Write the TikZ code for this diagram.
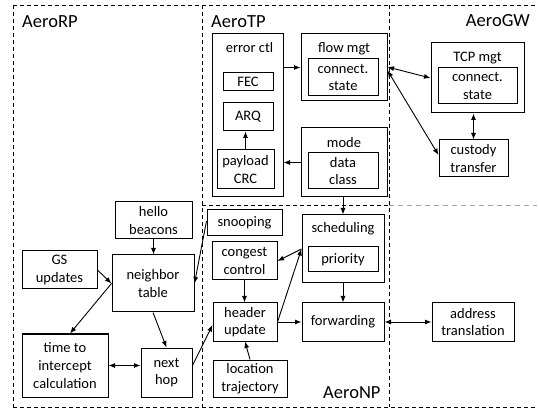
\documentclass[tikz,border=0pt]{standalone}
\usepackage{fontspec}
\setmainfont{Carlito}
\usetikzlibrary{arrows.meta}
\tikzset{
  box/.style={draw, line width=1pt, inner sep=0pt, align=center,
    font=\fontsize{14.5}{17.7}\selectfont},
  txt/.style={inner sep=0pt, font=\fontsize{14.5}{17.7}\selectfont},
  layer/.style={inner sep=0pt, font=\fontsize{18.5}{22}\selectfont},
  arr/.style={line width=0.9pt, -{Latex[length=6.5pt,width=5pt]}},
  darr/.style={line width=0.9pt, {Latex[length=6.5pt,width=5pt]}-{Latex[length=6.5pt,width=5pt]}},
  divider/.style={line width=0.9pt, dash pattern=on 4pt off 3pt},
  faint/.style={line width=0.9pt, draw=black!35, dash pattern=on 5pt off 4pt},
}
\newcommand{\bx}[6]{\node[box, minimum width=#4pt, minimum height=#5pt] (#1) at (#2,#3) {#6};}
\begin{document}
\begin{tikzpicture}[x=1pt,y=-1pt]
\useasboundingbox (0,0) rectangle (539,409);

% layer frame
\draw[divider] (13,5) -- (537,5);
\draw[divider] (13,407) -- (537,407);
\draw[divider] (13,5) -- (13,407);
\draw[divider] (202,5) -- (202,407);
\draw[divider] (389,5) -- (389,407);
\draw[divider] (202,205) -- (389,205);
\draw[faint] (389,205) -- (537,205);

% layer names
\node[layer, anchor=base west] (rp) at (22,28) {AeroRP};
\node[layer, anchor=base west] (tp) at (211,28) {AeroTP};
\node[layer, anchor=base east] (gw) at (530,27) {AeroGW};
\node[layer, anchor=base west] (np) at (323,399) {AeroNP};

% AeroTP
\bx{errctl}{247.5}{115.5}{71}{163}{}
\node[txt, anchor=base] (errlbl) at (249.5,53) {error ctl};
\bx{fec}{248}{82}{50}{18}{FEC}
\bx{arq}{248}{117}{50}{28}{ARQ}
\bx{crc}{245.5}{169.5}{57}{39}{payload\\CRC}
\bx{flow}{344}{67.5}{86}{67}{}
\node[txt, anchor=base] (flowlbl) at (344,53) {flow mgt};
\bx{conn}{343}{77.5}{70}{37}{connect.\\state}
\bx{mode}{344}{162.5}{86}{69}{}
\node[txt, anchor=base] (modelbl) at (344,148) {mode};
\bx{dclass}{343}{171}{70}{36}{data\\class}

% AeroGW
\bx{tcp}{477.5}{78}{93}{70}{}
\node[txt, anchor=base] (tcplbl) at (477.5,62) {TCP mgt};
\bx{conngw}{477.5}{86}{79}{36}{connect.\\state}
\bx{custody}{473.5}{158.5}{69}{37}{custody\\transfer}
\bx{addr}{473}{322}{82}{38}{address\\translation}

% AeroRP
\bx{hello}{153.5}{220.5}{77}{37}{hello\\beacons}
\bx{neigh}{153}{283.5}{82}{57}{neighbor\\table}
\bx{gs}{59.5}{270}{75}{38}{GS\\updates}
\bx{tti}{65}{365.5}{86}{63}{time to\\intercept\\calculation}
\bx{hop}{166.5}{372.5}{51}{49}{next\\hop}

% AeroNP
\bx{snoop}{244.5}{223}{75}{26}{snooping}
\bx{cong}{244.5}{261}{65}{38}{congest\\control}
\bx{hdr}{245}{322}{64}{38}{header\\update}
\bx{loc}{250}{378.5}{74}{37}{location\\trajectory}
\bx{sched}{343}{249}{82}{68}{}
\node[txt, anchor=base] (schedlbl) at (343,233) {scheduling};
\bx{prio}{343}{259.5}{70}{25}{priority}
\bx{fwd}{343}{322}{82}{38}{forwarding}

% connectors
\draw[arr] (errctl.east |- flow.west) -- (flow.west);
\draw[arr] (mode.west) -- (errctl.east |- mode.west);
\draw[arr] (crc.north) -- (crc.north |- arq.south);
\draw[darr] ([yshift=0.5pt]flow.east) -- (tcp.west);
\draw[darr] ([yshift=-3pt]flow.east) -- ([yshift=3.5pt]custody.west);
\draw[darr] (custody.north) -- (custody.north |- tcp.south);
\draw[arr] (sched.north |- mode.south) -- (sched.north);

\draw[arr] ([yshift=2pt]snoop.west) -- (neigh.east);
\draw[arr] (hello.south) -- (hello.south |- neigh.north);
\draw[arr] (gs.east) -- (neigh.west);
\draw[arr] (neigh.west) -- ([xshift=5pt]tti.north);
\draw[arr] (neigh.south) -- (hop.north);
\draw[darr] (tti.east) -- (tti.east -| hop.west);
\draw[arr] ([yshift=7pt]hop.east) -- ([yshift=-3pt]hdr.west);
\draw[arr] (cong.south) -- (cong.south |- hdr.north);
\draw[arr] (loc.north) -- (hdr.south);
\draw[arr] (hdr.east) -- (fwd.west);
\draw[arr] (hdr.east) -- (sched.west);
\draw[arr] (sched.west) -- (cong.east);
\draw[arr] (sched.south) -- (fwd.north);
\draw[darr] (fwd.east) -- (addr.west);
\end{tikzpicture}
\end{document}
